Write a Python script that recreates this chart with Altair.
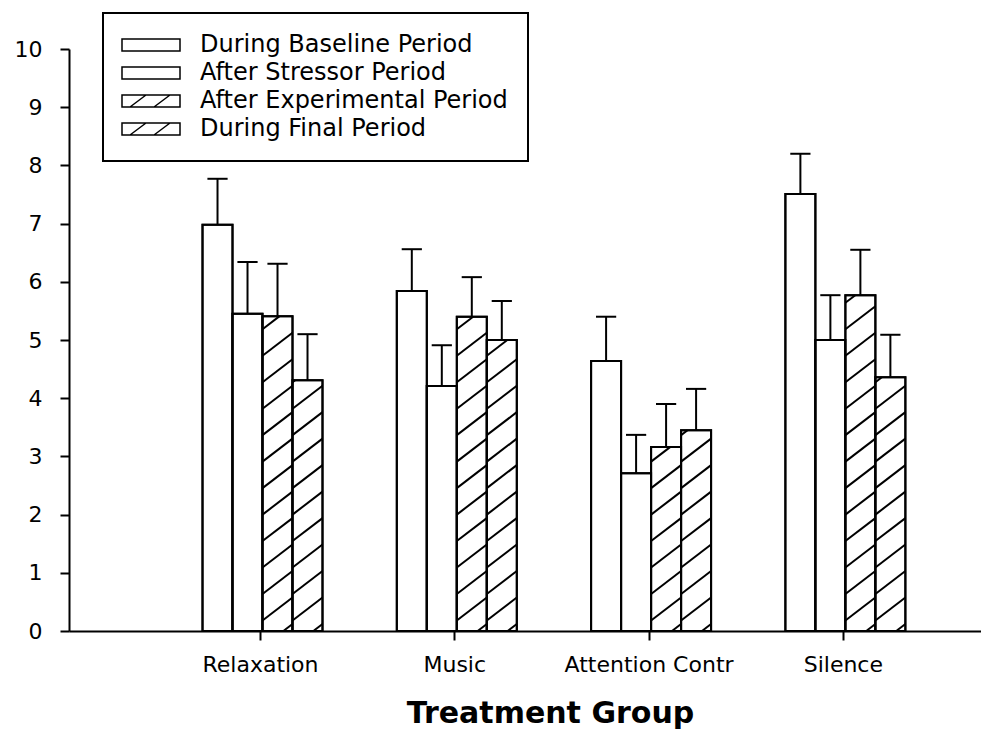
import altair as alt
import pandas as pd

# ---------------- data ----------------
groups = ["Relaxation", "Music", "Attention Contr", "Silence"]
series = ["During Baseline Period", "After Stressor Period",
          "After Experimental Period", "During Final Period"]
hatched = [False, False, True, True]

relaxation_mean = [6.98, 5.45, 5.41, 4.31]
music_mean = [5.84, 4.21, 5.40, 5.00]
attention_mean = [4.64, 2.71, 3.16, 3.45]
silence_mean = [7.51, 5.00, 5.77, 4.36]

relaxation_se = [0.79, 0.89, 0.90, 0.79]
music_se = [0.72, 0.70, 0.68, 0.67]
attention_se = [0.76, 0.66, 0.74, 0.71]
silence_se = [0.69, 0.77, 0.78, 0.73]

means = [relaxation_mean, music_mean, attention_mean, silence_mean]
ses = [relaxation_se, music_se, attention_se, silence_se]

rows = []
for gi, g in enumerate(groups):
    for si, s in enumerate(series):
        rows.append({"group": g, "gi": gi + 1, "series": s, "si": si,
                     "mean": means[gi][si], "se": ses[gi][si],
                     "hatched": hatched[si]})
df = pd.DataFrame(rows)

# ---------------- layout constants ----------------
BW = 0.1544      # bar width in x units
SHIFT = 0.013
CAP = 0.052      # half cap width
HS = 0.455       # hatch vertical spacing
HR = 0.395       # hatch rise over one bar width
FONT = "DejaVu Sans"

xs = alt.Scale(domain=[0.017, 4.711], nice=False, zero=False)
ys = alt.Scale(domain=[0, 10], nice=False, zero=True)

label_arr = "[''," + ",".join("'" + g + "'" for g in groups) + "]"
xaxis = alt.Axis(values=[1, 2, 3, 4], labelExpr=label_arr + "[datum.value]",
                 title="Treatment Group", grid=False, tickSize=9, tickWidth=2,
                 tickColor="black", domainColor="black", domainWidth=2,
                 labelFont=FONT, labelFontSize=22, labelColor="black",
                 labelPadding=14, titleFont=FONT, titleFontSize=30,
                 titleFontWeight="bold", titleColor="black", titleX=481,
                 titleY=91, titleBaseline="alphabetic", titleAlign="center")
yaxis = alt.Axis(values=list(range(11)), title=None, grid=False, tickSize=9,
                 tickWidth=2, tickColor="black", domainColor="black",
                 domainWidth=2, labelFont=FONT, labelFontSize=22,
                 labelColor="black", labelPadding=18)


def X(f):
    return alt.X(f, type="quantitative", scale=xs, axis=xaxis)


def Y(f):
    return alt.Y(f, type="quantitative", scale=ys, axis=yaxis)


base = alt.Chart(df).transform_calculate(
    xl=f"datum.gi + {SHIFT} + (datum.si - 2) * {BW}",
    y0="0",
    yhide="-5",
).transform_calculate(
    xr=f"datum.xl + {BW}",
    xc=f"datum.xl + {BW / 2}",
    top="datum.mean + datum.se",
).transform_calculate(
    cl=f"datum.xc - {CAP}",
    cr=f"datum.xc + {CAP}",
)

bars = base.mark_bar(fill="white", stroke="black", strokeWidth=2).encode(
    x=X("xl"), x2="xr", y=Y("mean"), y2="y0")

hatch = base.transform_filter("datum.hatched").transform_calculate(
    js="sequence(0, 22)"
).transform_flatten(["js"]).transform_calculate(
    ys=f"datum.js * {HS} - {HR} + 0.12"
).transform_calculate(
    t0=f"max(0, -datum.ys / {HR})",
    t1=f"min(1, (datum.mean - datum.ys) / {HR})",
).transform_filter("datum.t1 > datum.t0 + 0.02").transform_calculate(
    ha=f"datum.xl + datum.t0 * {BW}",
    hb=f"datum.xl + datum.t1 * {BW}",
    ya=f"datum.ys + datum.t0 * {HR}",
    yb=f"datum.ys + datum.t1 * {HR}",
).mark_rule(color="black", strokeWidth=2).encode(
    x=X("ha"), x2="hb", y=Y("ya"), y2="yb")

outline = base.mark_bar(fill="white", fillOpacity=0, stroke="black",
                        strokeWidth=2).encode(
    x=X("xl"), x2="xr", y=Y("mean"), y2="y0")

err = base.mark_rule(color="black", strokeWidth=2).encode(
    x=X("xc"), y=Y("mean"), y2="top")
caps = base.mark_rule(color="black", strokeWidth=2).encode(
    x=X("cl"), x2="cr", y=Y("top"))

plain = "M-2.167,-1H7.5V1H-2.167Z"
hpath = "M-2.167,-1H7.5V1H-2.167Z M-0.833,1L1.833,-1 M3.167,1L5.833,-1"

# points carry the legend only; they sit below the y domain and are clipped
legend_pts = base.mark_point(filled=False, color="black", opacity=1,
                             strokeWidth=1.6, clip=True).encode(
    x=X("xc"), y=Y("yhide"),
    shape=alt.Shape("series:N",
                    scale=alt.Scale(domain=series,
                                    range=[hpath if h else plain for h in hatched]),
                    legend=alt.Legend(
                        title=None, orient="none", legendX=34, legendY=-36,
                        direction="vertical", symbolSize=144, labelOffset=53,
                        labelFont=FONT, labelFontSize=24, labelColor="black",
                        padding=20, rowPadding=4, strokeColor="black",
                        labelLimit=0,
                        labelExpr="datum.label + '\u00a0\u00a0\u00a0\u00a0'")),
)

chart = alt.layer(bars, hatch, outline, err, caps, legend_pts).properties(
    width=912, height=582,
    autosize=alt.AutoSizeParams(type="none"),
    padding={"left": 61, "top": 41, "right": 0, "bottom": 99},
).configure_view(stroke=None).configure_legend(strokeWidth=2)

chart.save("out.html", embed_options={"renderer": "svg", "actions": False})
